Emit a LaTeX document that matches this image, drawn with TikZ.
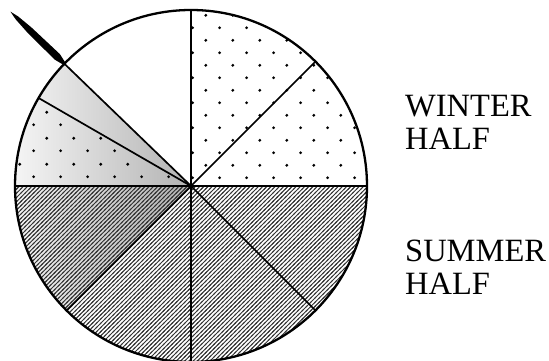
\documentclass[tikz,border=0pt]{standalone}
\usepackage{fontspec}
\setmainfont{Liberation Serif}
\usetikzlibrary{patterns}

\pgfdeclarepatternformonly{dotgrid}{\pgfqpoint{0pt}{0pt}}{\pgfqpoint{26.67pt}{25.4pt}}{\pgfqpoint{26.67pt}{25.4pt}}{%
  \pgfpathcircle{\pgfqpoint{6.67pt}{6.35pt}}{1.6pt}%
  \pgfpathcircle{\pgfqpoint{20pt}{19.05pt}}{1.6pt}%
  \pgfusepath{fill}}

\pgfdeclarepatternformonly{hatchne}{\pgfqpoint{-1pt}{-1pt}}{\pgfqpoint{5.2pt}{5.2pt}}{\pgfqpoint{4.2pt}{4.2pt}}{%
  \pgfsetlinewidth{0.95pt}%
  \pgfpathmoveto{\pgfqpoint{-1pt}{-1pt}}%
  \pgfpathlineto{\pgfqpoint{5.2pt}{5.2pt}}%
  \pgfusepath{stroke}}

\def\R{176}
\def\sectorpath#1#2{(C) -- ++(#1:\R) arc[start angle=#1, end angle=#2, radius=\R] -- cycle}

\begin{document}
\begin{tikzpicture}[x=1pt,y=1pt,
  rim/.style={line width=2.3pt},
  spoke/.style={line width=1.7pt},
  dotfill/.style={pattern=dotgrid, pattern color=black},
  hatchfill/.style={pattern=hatchne, pattern color=black!80},
  halflabel/.style={font=\fontsize{32.5}{33}\selectfont, align=left, inner sep=0pt, anchor=north west}]
\useasboundingbox (0,0) rectangle (549,361);
\coordinate (C) at (191,175);

% gray gradient on the left sectors
\begin{scope}
  \clip \sectorpath{136}{225};
  \shade[left color=gray!8, right color=gray!60] (15,0) rectangle (191,361);
\end{scope}

% patterns
\fill[dotfill] \sectorpath{0}{90};
\fill[dotfill] \sectorpath{150}{180};
\fill[hatchfill] \sectorpath{180}{360};

% spokes and rim
\foreach \a in {0,45,90,136,150,180,225,270,315}
  \draw[spoke] (C) -- ++(\a:\R);
\draw[rim] (C) circle[radius=\R];

% pointer
\fill[black, shift={(C)}, rotate=136]
  (175,1.2) -- (186,3.8) -- (225,3.2) -- (242,1.9) -- (251,0) -- (242,-1.9) -- (225,-3.2) -- (186,-3.8) -- (175,-1.2) -- cycle;

% labels
\node[halflabel] (winter) at (405,266) {WINTER\\HALF};
\node[halflabel] (summer) at (405,121) {SUMMER\\HALF};
\end{tikzpicture}
\end{document}
